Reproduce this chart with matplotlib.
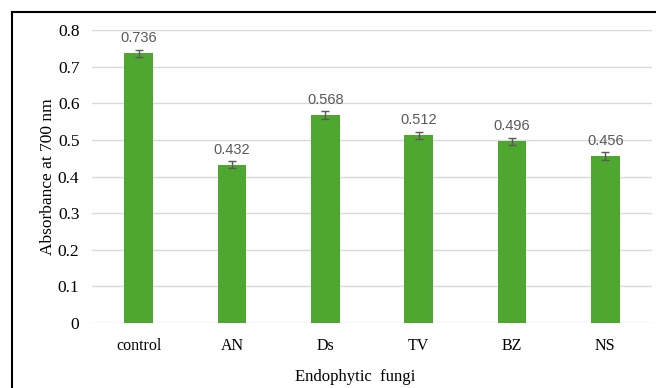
import matplotlib.pyplot as plt
from matplotlib.lines import Line2D

fungi = ['control', 'AN', 'Ds', 'TV', 'BZ', 'NS']
absorbance = [0.736, 0.432, 0.568, 0.512, 0.496, 0.456]
errors = [0.010, 0.010, 0.010, 0.010, 0.010, 0.010]
yticks = [0, 0.1, 0.2, 0.3, 0.4, 0.5, 0.6, 0.7, 0.8]

fig = plt.figure(figsize=(6.56, 3.88), dpi=100)
ax = fig.add_axes([0.1402, 0.1675, 0.8537, 0.7552])

x = range(len(fungi))
ax.bar(x, absorbance, width=0.31, color='#4ea72e', zorder=3)
ax.errorbar(x, absorbance, yerr=errors, fmt='none', ecolor='#595959',
            elinewidth=1, capsize=3, capthick=1, zorder=4)

for i, v in enumerate(absorbance):
    ax.text(i, v + errors[i] + 0.012, f'{v:.3f}', ha='center', va='bottom',
            fontsize=10.5, color='#595959', family='Liberation Sans')

ax.set_xlim(-0.5, len(fungi) - 0.5)
ax.set_ylim(0, 0.8)
ax.set_yticks(yticks)
ax.set_yticklabels([f'{t:g}' for t in yticks], family='Liberation Serif', fontsize=12.5)
ax.set_xticks(list(x))
ax.set_xticklabels(fungi, family='Liberation Serif', fontsize=11.5)
ax.tick_params(length=0)
ax.tick_params(axis='y', pad=9)
ax.tick_params(axis='x', pad=11)
ax.grid(axis='y', color='#d9d9d9', linewidth=1, zorder=0)
for s in ax.spines.values():
    s.set_visible(False)

ax.set_ylabel('Absorbance at 700 nm', family='Liberation Serif', fontsize=12.5, labelpad=1.5)
ax.set_xlabel('Endophytic  fungi', family='Liberation Serif', fontsize=12)
ax.xaxis.set_label_coords(0.47, -0.158)

# frame around the figure (only left and top edges visible)
fig.add_artist(Line2D([11.5 / 656, 11.5 / 656], [0, 1 - 11.5 / 388], color='black', lw=1.5))
fig.add_artist(Line2D([11.5 / 656, 1], [1 - 11.5 / 388, 1 - 11.5 / 388], color='black', lw=1.5))

fig.savefig('out.png', dpi=100)
